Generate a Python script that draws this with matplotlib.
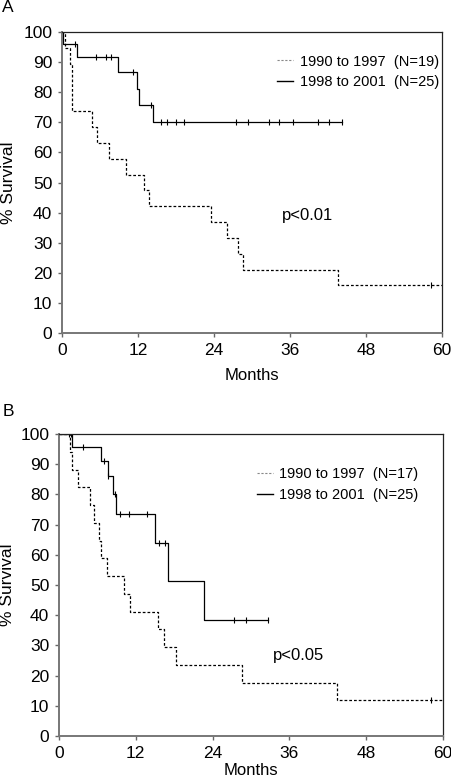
import numpy as np
import matplotlib
matplotlib.use('Agg')
import matplotlib.pyplot as plt
from matplotlib.lines import Line2D

plt.rcParams['font.family'] = ['Liberation Sans', 'DejaVu Sans']

# ---- panel A data (months, % survival) ----
a_old_times  = [0.4, 1.2, 1.5, 4.7, 5.5, 7.4, 10.1, 12.9, 13.7, 23.6, 26.0, 27.8, 28.6, 43.6]
a_old_surv   = [94.7, 89.5, 73.7, 68.4, 63.2, 57.9, 52.6, 47.4, 42.1, 36.8, 31.6, 26.3, 21.1, 15.8]
a_old_cens   = [58.2]
a_old_end    = 60

a_new_times  = [0.2, 2.3, 8.9, 11.8, 12.1, 14.3]
a_new_surv   = [96.0, 91.7, 86.7, 81.0, 75.6, 70.0]
a_new_cens   = [2.0, 5.3, 7.0, 7.7, 11.2, 14.0, 15.6, 16.5, 18.0, 19.2,
                27.5, 29.3, 32.7, 34.2, 36.4, 40.4, 42.2, 44.2]
a_new_end    = 44.2

# ---- panel B data ----
b_old_times  = [1.7, 2.0, 2.9, 4.8, 5.5, 6.3, 6.6, 7.5, 10.2, 11.1, 15.5, 16.4, 18.3, 28.6, 43.5]
b_old_surv   = [94.1, 88.2, 82.4, 76.5, 70.6, 64.7, 58.8, 52.9, 47.1, 41.2, 35.3, 29.4, 23.5, 17.6, 11.8]
b_old_cens   = [58.1]
b_old_end    = 60

b_new_times  = [2.1, 6.6, 7.6, 8.4, 8.9, 15.0, 17.1, 22.7]
b_new_surv   = [95.7, 91.1, 86.1, 80.0, 73.4, 64.0, 51.3, 38.4]
b_new_cens   = [1.6, 1.9, 3.7, 7.0, 7.7, 8.75, 9.5, 11.0, 13.7, 15.7, 16.5, 27.4, 29.2, 32.7]
b_new_end    = 32.7

labels_a = ['1990 to 1997  (N=19)', '1998 to 2001  (N=25)']
labels_b = ['1990 to 1997  (N=17)', '1998 to 2001  (N=25)']


def km_line(ax, times, surv, cens, end, ls):
    x = np.concatenate([[0], times, [end]])
    y = np.concatenate([[100], surv, [surv[-1]]])
    ax.step(x, y, where='post', color='black', ls=ls, lw=0.9,
            dashes=(2.2, 1.6) if ls == '--' else (None, None))
    # censor marks sit on the current level of the curve
    idx = np.searchsorted(times, cens, side='right')
    lev = np.concatenate([[100], surv])[idx]
    ax.plot(cens, lev, ls='none', marker='|', color='black', ms=5, mew=0.8)


def setup(ax, ptext, px, py, labels, leg_anchor, xlab_y, ylab_x):
    ax.set_xlim(0, 60)
    ax.set_ylim(0, 100)
    ax.set_xticks(range(0, 61, 12))
    ax.set_yticks(range(0, 101, 10))
    ax.tick_params(labelsize=12.5, length=3, width=1, color='#666666', pad=4)
    for s in ['left', 'bottom']:
        ax.spines[s].set_color('#777777')
        ax.spines[s].set_linewidth(1.4)
    for s in ['top', 'right']:
        ax.spines[s].set_color('#222222')
        ax.spines[s].set_linewidth(0.9)
    ax.set_xlabel('Months', fontsize=12)
    ax.set_ylabel('% Survival', fontsize=12.5)
    ax.xaxis.set_label_coords(0.5, xlab_y)
    ax.yaxis.set_label_coords(ylab_x, 0.5)
    ax.xaxis.label.set_va('center')
    ax.yaxis.label.set_va('center')
    ax.text(px, py, ptext, fontsize=12, ha='center', va='center')
    handles = [Line2D([], [], color='#888888', lw=0.8, ls=(0, (2, 1.5))),
               Line2D([], [], color='black', lw=1.0)]
    ax.legend(handles, labels, loc='upper left', bbox_to_anchor=leg_anchor,
              frameon=False, fontsize=10.5, handlelength=1.1,
              handletextpad=0.45, labelspacing=0.45, borderaxespad=0,
              borderpad=0)


fig = plt.figure(figsize=(4.51, 7.83), dpi=100)
axA = fig.add_axes([0.1375, 0.5747, 0.8425, 0.3844])
axB = fig.add_axes([0.1308, 0.0600, 0.8515, 0.3857])

km_line(axA, a_old_times, a_old_surv, a_old_cens, a_old_end, '--')
km_line(axA, a_new_times, a_new_surv, a_new_cens, a_new_end, '-')
setup(axA, 'p<0.01', 38.8, 39.2, labels_a, (0.567, 0.925), -0.14, -0.142)

km_line(axB, b_old_times, b_old_surv, b_old_cens, b_old_end, '--')
km_line(axB, b_new_times, b_new_surv, b_new_cens, b_new_end, '-')
setup(axB, 'p<0.05', 37.5, 26.8, labels_b, (0.515, 0.89), -0.113, -0.133)

fig.text(0.018, 0.990, 'A', fontsize=12.5, ha='center', va='center')
fig.text(0.018, 0.475, 'B', fontsize=12.5, ha='center', va='center')

fig.savefig('out.png', dpi=100)
